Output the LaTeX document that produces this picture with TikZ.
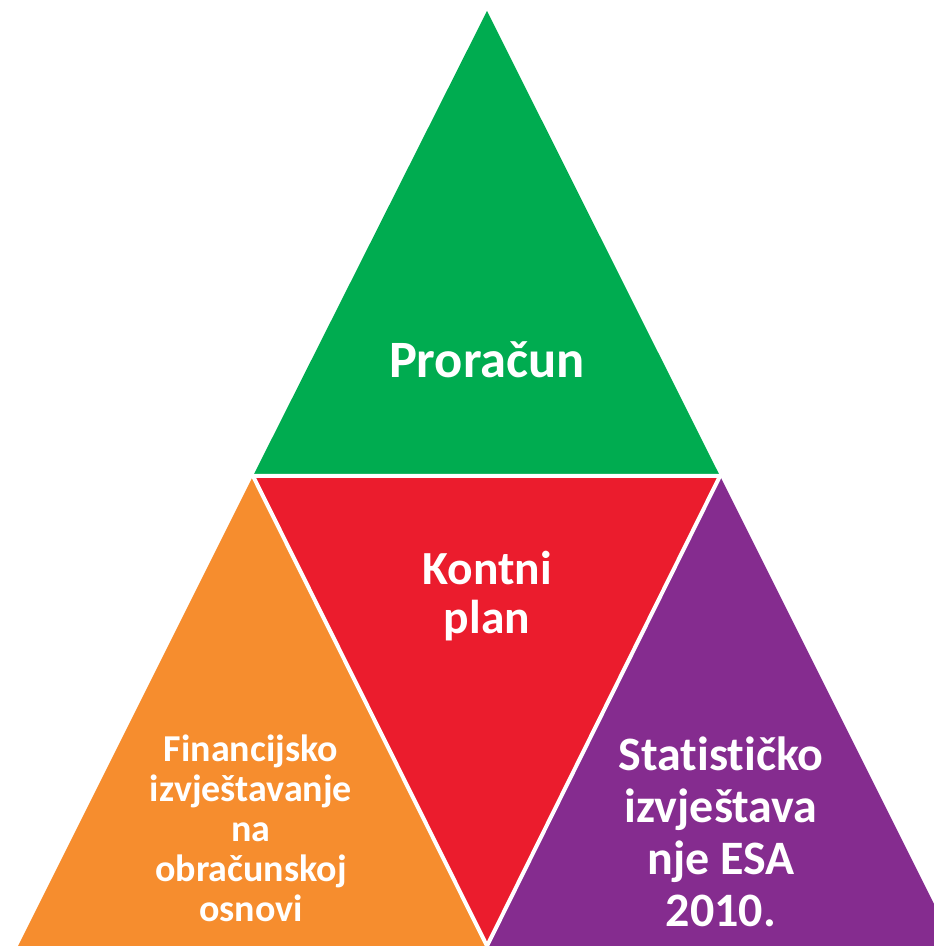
\documentclass[tikz,border=0pt]{standalone}
\usepackage{fontspec}
\setmainfont{Carlito}[Ligatures=NoCommon]
\definecolor{pgreen}{HTML}{00AC50}
\definecolor{pred}{HTML}{EB1C2D}
\definecolor{porange}{HTML}{F68D2E}
\definecolor{ppurple}{HTML}{852C8F}
\begin{document}
\begin{tikzpicture}[x=1pt,y=1pt,
  lbl/.style={text=white,align=center,inner sep=0pt,font=\bfseries},
  gap/.style={draw=white,line width=4pt}]
\useasboundingbox (0,0) rectangle (934,946);
\clip (0,0) rectangle (934,946);
\coordinate (top) at (487,935);
\coordinate (bl) at (253,470);
\coordinate (br) at (720,470);
\coordinate (bot) at (487,0);
\coordinate (ol) at (18,0);
\coordinate (pr) at (955,0);
\fill[pgreen] (top) -- (br) -- (bl) -- cycle;
\fill[porange] (bl) -- (bot) -- (ol) -- cycle;
\fill[ppurple] (br) -- (pr) -- (bot) -- cycle;
\fill[pred] (bl) -- (br) -- (bot) -- cycle;
\draw[gap] (bl) -- (br) -- (bot) -- cycle;
\node[lbl,anchor=base,font=\bfseries\fontsize{52.5}{60}\selectfont] (proracun) at (487,568) {Proračun};
\node[lbl,font=\bfseries\fontsize{47.5}{49}\selectfont] (kontni) at (487,350) {Kontni\\plan};
\node[lbl,font=\bfseries\fontsize{38}{40}\selectfont] (fin) at (251,118) {Financijsko\\izvještavanje\\na\\obračunskoj\\osnovi};
\node[lbl,font=\bfseries\fontsize{48}{52}\selectfont] (stat) at (721,114) {Statističko\\izvještava\\nje ESA\\2010.};
\end{tikzpicture}
\end{document}
